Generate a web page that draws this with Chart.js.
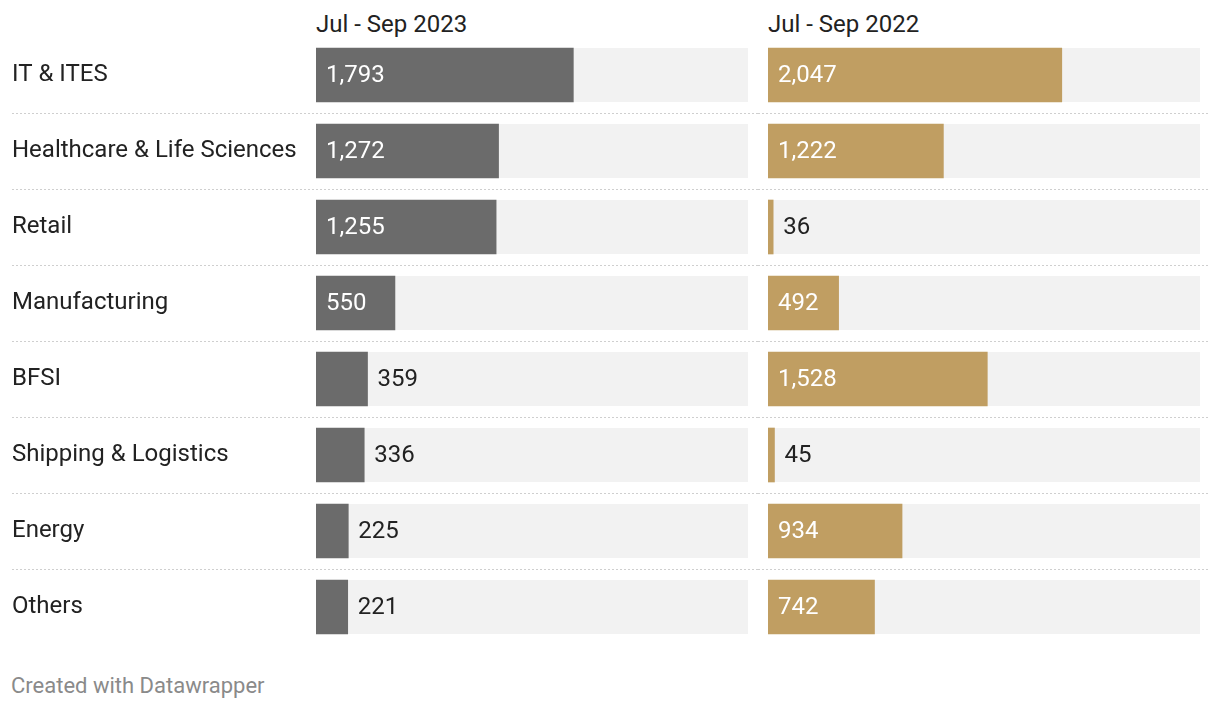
<!DOCTYPE html>
<html>
<head>
<meta charset="utf-8">
<script src="https://cdn.jsdelivr.net/npm/chart.js@4.4.0/dist/chart.umd.min.js"></script>
<style>
  body { margin: 0; background: #fff; font-family: Roboto, "Noto Sans", sans-serif; color: #222; }
  #page { position: relative; width: 1220px; height: 710px; overflow: hidden; }
  .head { position: absolute; top: 8px; font-size: 24px; line-height: 32px; color: #222; }
  .wrap { position: absolute; top: 0; height: 660px; }
  #foot { position: absolute; left: 11px; top: 671px; font-size: 22px; line-height: 30px; color: #8a8a8a; }
</style>
</head>
<body>
<div id="page">
  <div class="head" style="left:316px">Jul - Sep 2023</div>
  <div class="head" style="left:768px">Jul - Sep 2022</div>
  <div class="wrap" style="left:0;width:758px"><canvas id="c2023"></canvas></div>
  <div class="wrap" style="left:758px;width:462px"><canvas id="c2022"></canvas></div>
  <div id="foot">Created with Datawrapper</div>
</div>
<script>
// sectores y valores
const sectors = ['IT & ITES', 'Healthcare & Life Sciences', 'Retail', 'Manufacturing', 'BFSI', 'Shipping & Logistics', 'Energy', 'Others'];
const values2023 = [1793, 1272, 1255, 550, 359, 336, 225, 221];
const values2022 = [2047, 1222, 36, 492, 1528, 45, 934, 742];
const axisMax = 3010;

const FONT = { family: 'Roboto', size: 24 };

// fondo gris de cada fila + lineas punteadas
const trackPlugin = {
  id: 'tracks',
  beforeDatasetsDraw(chart, args, opts) {
    const ctx = chart.ctx;
    const area = chart.chartArea;
    const meta = chart.getDatasetMeta(0);
    ctx.save();
    meta.data.forEach((bar, i) => {
      ctx.fillStyle = '#f2f2f2';
      ctx.fillRect(area.left, bar.y - bar.height / 2, area.right - area.left, bar.height);
      if (i < meta.data.length - 1) {
        const next = meta.data[i + 1];
        const y = Math.round((bar.y + next.y) / 2) + 0.5;
        ctx.strokeStyle = '#cfcfcf';
        ctx.lineWidth = 1;
        ctx.setLineDash([2, 2]);
        ctx.beginPath();
        ctx.moveTo(opts.lineFrom, y);
        ctx.lineTo(opts.lineTo, y);
        ctx.stroke();
        ctx.setLineDash([]);
      }
    });
    ctx.restore();
  }
};

// etiquetas de valores
const valuePlugin = {
  id: 'values',
  afterDatasetsDraw(chart) {
    const ctx = chart.ctx;
    const meta = chart.getDatasetMeta(0);
    const data = chart.data.datasets[0].data;
    ctx.save();
    ctx.font = FONT.size + 'px ' + FONT.family;
    ctx.textBaseline = 'middle';
    ctx.textAlign = 'left';
    meta.data.forEach((bar, i) => {
      const txt = data[i].toLocaleString('en-US');
      const w = ctx.measureText(txt).width;
      const barW = bar.x - bar.base;
      if (w + 20 <= barW) {
        ctx.fillStyle = '#ffffff';
        ctx.fillText(txt, bar.base + 10, bar.y + 1);
      } else {
        ctx.fillStyle = '#222222';
        ctx.fillText(txt, bar.x + 10, bar.y + 1);
      }
    });
    ctx.restore();
  }
};

function makeChart(id, values, color, showLabels, padding, lineFrom, lineTo) {
  return new Chart(document.getElementById(id), {
    type: 'bar',
    data: {
      labels: sectors,
      datasets: [{ data: values, backgroundColor: color, barThickness: 54, categoryPercentage: 1 }]
    },
    options: {
      indexAxis: 'y',
      responsive: true,
      maintainAspectRatio: false,
      animation: false,
      layout: { padding: padding },
      plugins: {
        legend: { display: false },
        tooltip: { enabled: false },
        tracks: { lineFrom: lineFrom, lineTo: lineTo }
      },
      scales: {
        x: { min: 0, max: axisMax, display: false },
        y: {
          display: showLabels,
          grid: { display: false },
          border: { display: false },
          ticks: { color: '#222', font: FONT, crossAlign: 'far', padding: 0 },
          afterFit(scale) { if (showLabels) scale.width = 304; }
        }
      }
    },
    plugins: [trackPlugin, valuePlugin]
  });
}

makeChart('c2023', values2023, '#6b6b6b', true, { left: 12, right: 10, top: 37, bottom: 15 }, 12, 758);
makeChart('c2022', values2022, '#c09e62', false, { left: 10, right: 20, top: 37, bottom: 15 }, 0, 450);
</script>
</body>
</html>
